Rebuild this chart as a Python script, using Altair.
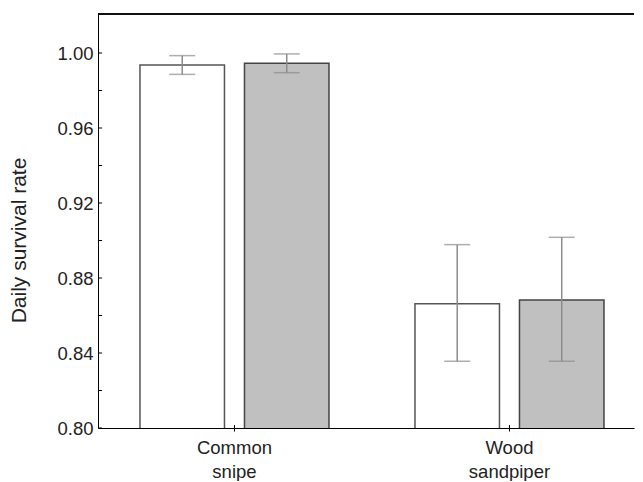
import altair as alt
import pandas as pd

# ---- data ----
species = ["Common snipe", "Common snipe", "Wood sandpiper", "Wood sandpiper"]
groups = ["A", "B", "A", "B"]
rates = [0.9936, 0.9945, 0.8663, 0.8683]
lower = [0.9886, 0.9895, 0.8356, 0.8356]
upper = [0.9986, 0.9995, 0.8978, 0.9017]
categories = ["Common snipe", "Wood sandpiper"]
group_order = ["A", "B"]
y_label_ticks = [0.80, 0.84, 0.88, 0.92, 0.96, 1.00]
y_all_ticks = [0.80, 0.82, 0.84, 0.86, 0.88, 0.90, 0.92, 0.94, 0.96, 0.98, 1.00]

df = pd.DataFrame({"species": species, "group": groups, "rate": rates,
                   "lo": lower, "hi": upper})
ytick_df = pd.DataFrame({"v": y_all_ticks})
xtick_df = pd.DataFrame({"species": categories})

FONT = "Liberation Sans"
TXT = "#222222"
W, H = 536, 414

xscale = alt.Scale(domain=categories, paddingInner=0.3127, paddingOuter=0.1309, align=0.583)
xoff_scale = alt.Scale(domain=group_order, paddingInner=0.1914, paddingOuter=0)
yscale = alt.Scale(domain=[0.80, 1.0208], nice=False, zero=False)

x_bottom = alt.X("species:N", scale=xscale, sort=categories,
                 axis=alt.Axis(title=None, labelExpr="split(datum.value, ' ')",
                               labelFontSize=18.5, labelLineHeight=24, labelFont=FONT,
                               labelColor=TXT, tickSize=3, tickColor="black",
                               domainColor="black", domainWidth=1, labelPadding=7,
                               labelAngle=0))
x_plain = alt.X("species:N", scale=xscale, sort=categories)
xoff = alt.XOffset("group:N", scale=xoff_scale, sort=group_order)

y_axis = alt.Axis(values=y_label_ticks, format=".2f", title="Daily survival rate",
                  titleFontSize=21, titleFont=FONT, titleFontWeight="normal",
                  titleColor=TXT, labelFontSize=18.5, labelFont=FONT, labelColor=TXT,
                  ticks=False, labelPadding=5, titlePadding=27, titleY=226,
                  domainColor="black", domainWidth=1, grid=False)

base = alt.Chart(df)

bars = base.mark_bar(strokeWidth=1.5, clip=True).encode(
    x=x_bottom,
    xOffset=xoff,
    y=alt.Y("rate:Q", scale=yscale, axis=y_axis),
    fill=alt.Fill("group:N", scale=alt.Scale(domain=group_order, range=["#ffffff", "#c0c0c0"]), legend=None),
    stroke=alt.Stroke("group:N", scale=alt.Scale(domain=group_order, range=["#555555", "#444444"]), legend=None),
)

err = base.mark_rule(color="#8c8c8c", strokeWidth=1.5).encode(
    x=x_plain, xOffset=xoff,
    y=alt.Y("lo:Q", scale=yscale), y2="hi:Q",
)
cap_lo = base.mark_tick(color="#8c8c8c", size=26, thickness=1.5).encode(
    x=x_plain, xOffset=xoff, y=alt.Y("lo:Q", scale=yscale),
)
cap_hi = base.mark_tick(color="#8c8c8c", size=26, thickness=1.5).encode(
    x=x_plain, xOffset=xoff, y=alt.Y("hi:Q", scale=yscale),
)

# inward minor/major ticks on the y axis
yticks = alt.Chart(ytick_df).mark_rule(color="black", strokeWidth=1).encode(
    y=alt.Y("v:Q", scale=yscale),
    x=alt.value(0), x2=alt.value(4),
)

# inward part of the category ticks
xticks = alt.Chart(xtick_df).mark_rule(color="black", strokeWidth=1).encode(
    x=x_plain,
    y=alt.value(H - 3), y2=alt.value(H),
)

# top frame line
frame_top = alt.Chart(xtick_df).mark_rule(color="black", strokeWidth=1.5).encode(
    x=alt.value(0), x2=alt.value(W), y=alt.value(0),
)

chart = alt.layer(bars, err, cap_lo, cap_hi, yticks, xticks, frame_top).properties(
    width=W, height=H,
    padding={"left": 0, "top": 5, "right": 0, "bottom": 0},
    background="white",
).configure_view(stroke=None).configure_axis(grid=False)

chart.save("out.html", embed_options={"renderer": "svg", "actions": False})
